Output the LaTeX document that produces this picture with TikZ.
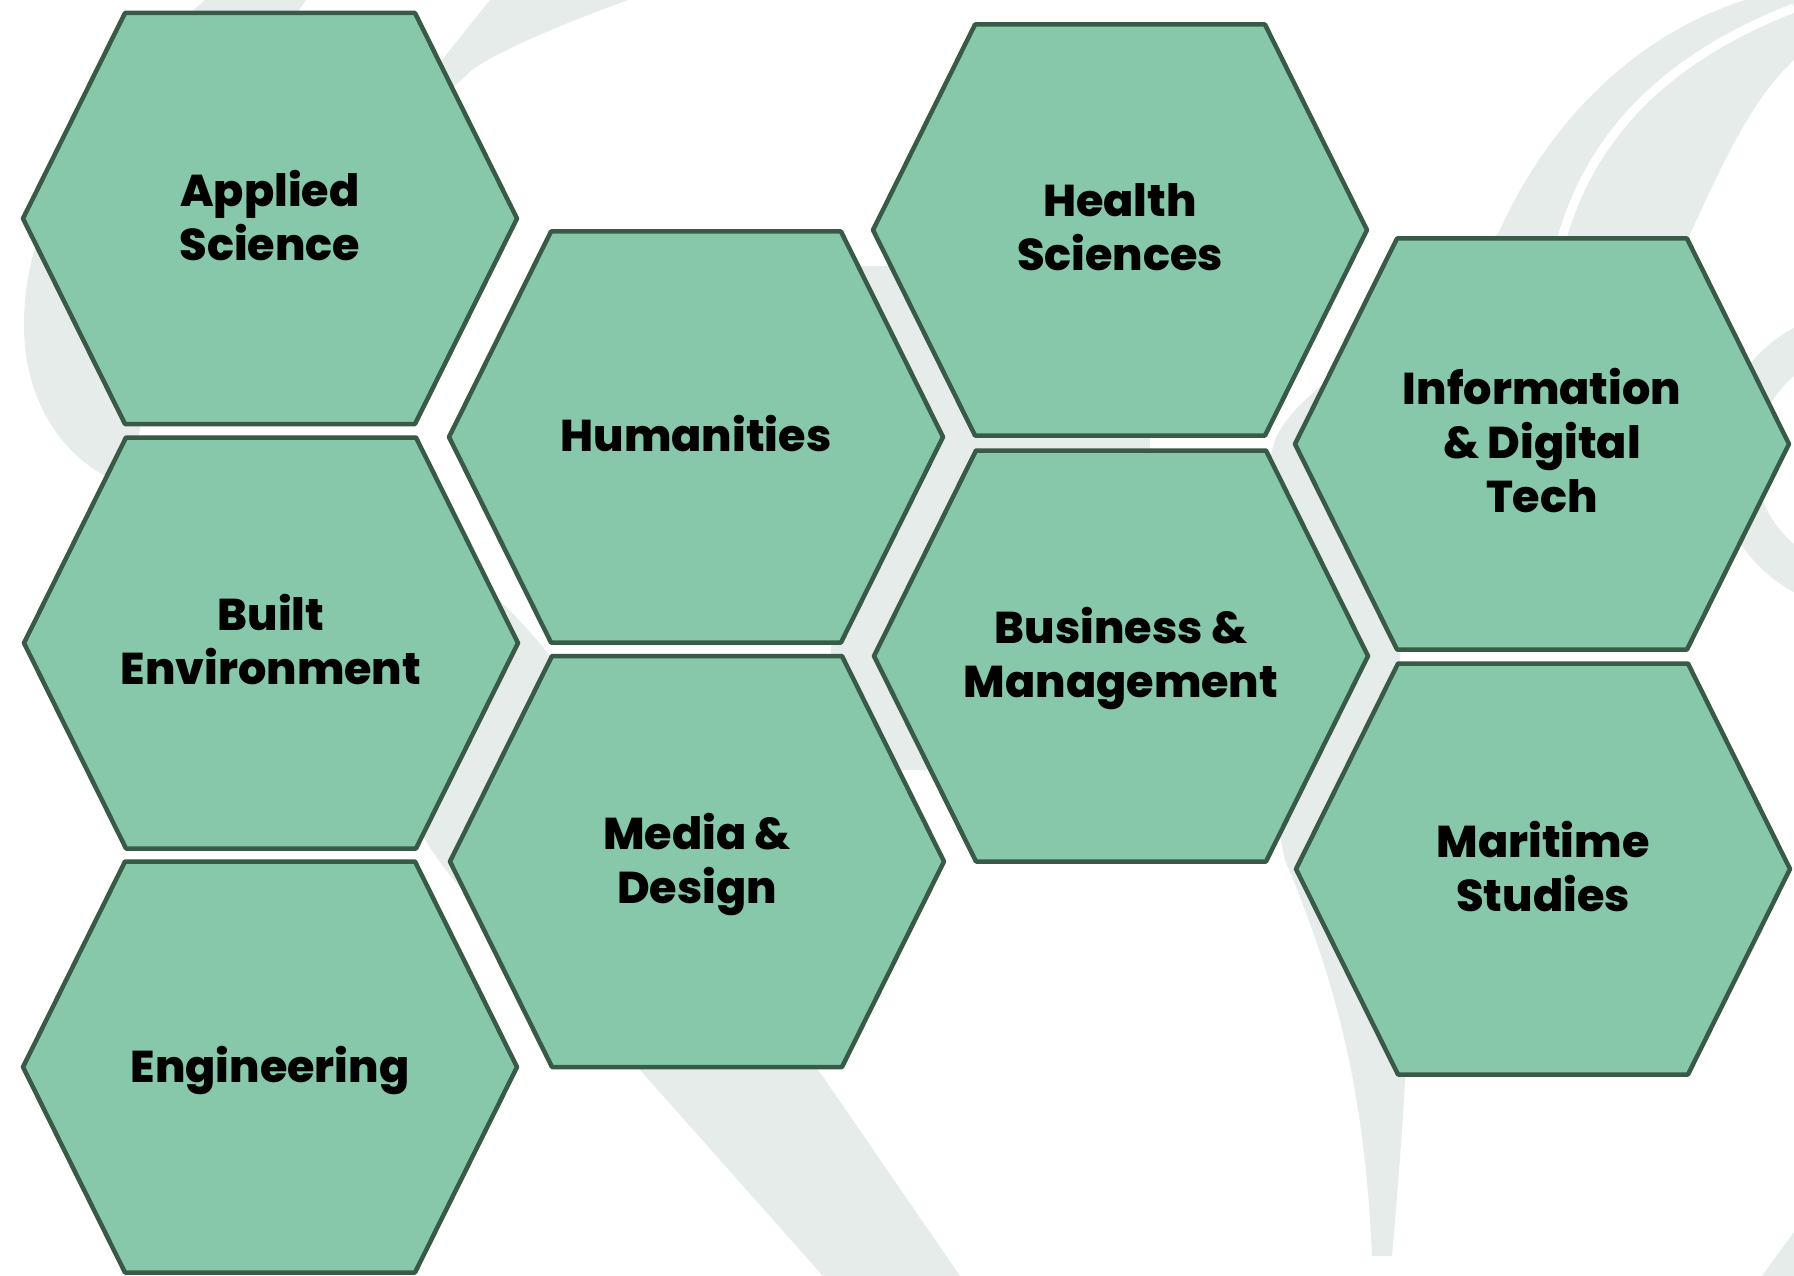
\documentclass[tikz,border=0pt]{standalone}
\usepackage{fontspec}
\setmainfont{Poppins}
\newfontfamily\hexfont{Poppins ExtraBold}
\definecolor{hexfill}{HTML}{88C8AA}
\definecolor{hexline}{HTML}{3A5A48}
\definecolor{wmark}{HTML}{E5ECE9}
\tikzset{
  hexcell/.style={fill=hexfill, draw=hexline, line width=4.5pt, line join=round},
  hexlabel/.style={align=center, font=\fontsize{44.5}{54}\hexfont, text=black, inner sep=0pt, yshift=-3pt,
    execute at begin node=\vphantom{lg}, execute at end node=\vphantom{lg}},
  wm/.style={fill=wmark}
}
\newcommand\hexat[4]{%
  \draw[hexcell, shift={(#2,#3)}] (-247,0) -- (-145,-205.5) -- (145,-205.5) -- (247,0) -- (145,205.5) -- (-145,205.5) -- cycle;
  \node[hexlabel] (#1) at (#2,#3) {#4};}
\begin{document}
\begin{tikzpicture}[x=1pt,y=-1pt]
\useasboundingbox (0,0) rectangle (1794,1276);
\fill[white] (0,0) rectangle (1794,1276);
\begin{scope}
\clip (0,0) rectangle (1794,1276);
% left crescent
\fill[wm] (205,0) .. controls (90,100) and (22,220) .. (24,330) .. controls (26,410) and (70,465) .. (125,485) -- (140,430) .. controls (160,330) and (220,120) .. (306,0) -- cycle;
% top diagonal
\fill[wm] (490,0) -- (628,0) .. controls (560,25) and (500,50) .. (472,70) -- (330,200) -- cycle;
% central band
\fill[wm] (835,266) -- (990,266) -- (1150,438) -- (1150,456) -- (990,620) -- (985,770) -- (830,770) -- cycle;
% lower diagonal band
\fill[wm] (823,1276) -- (641,1071) .. controls (500,930) and (400,850) .. (400,760) .. controls (400,690) and (430,610) .. (470,575) .. controls (580,660) and (680,850) .. (819,1071) -- (960,1276) -- cycle;
% right big crescent
\fill[wm] (1745,0) .. controls (1620,40) and (1540,140) .. (1499,232) .. controls (1420,330) and (1300,380) .. (1275,440) .. controls (1250,520) and (1255,720) .. (1285,860) .. controls (1340,990) and (1365,1100) .. (1372,1256) -- (1392,1256) .. controls (1400,1160) and (1410,1050) .. (1410,900) .. controls (1410,780) and (1400,700) .. (1400,656) .. controls (1420,500) and (1600,330) .. (1689,236) .. controls (1720,170) and (1750,100) .. (1794,60) -- (1794,0) -- cycle;
\draw[white, line width=9pt] (1562,238) .. controls (1590,140) and (1660,60) .. (1794,8);
% right ring
\draw[wmark, line width=40pt] (1865,460) circle (130);
\fill[wm] (1794,1232) -- (1794,1276) -- (1762,1276) -- cycle;
\end{scope}
\hexat{as}{270}{218.5}{Applied\\Science}
\hexat{be}{271}{643}{Built\\Environment}
\hexat{en}{270}{1067}{Engineering}
\hexat{hu}{696}{437}{Humanities}
\hexat{md}{697}{861.5}{Media \&\\Design}
\hexat{hs}{1120}{230}{Health\\Sciences}
\hexat{bm}{1121}{656}{Business \&\\Management}
\hexat{id}{1542}{444}{Information\\\& Digital\\Tech}
\hexat{ms}{1543}{869}{Maritime\\Studies}
\end{tikzpicture}
\end{document}
